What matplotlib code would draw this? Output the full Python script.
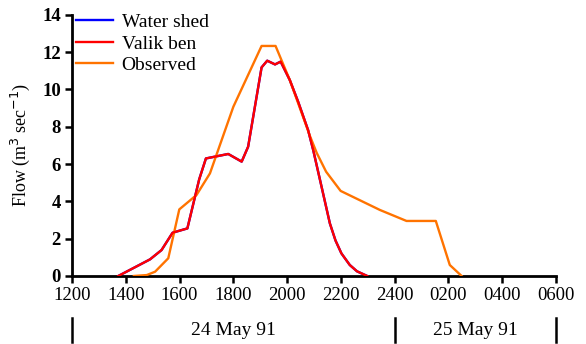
import matplotlib
matplotlib.use("Agg")
import matplotlib.pyplot as plt

plt.rcParams['font.family'] = ['Liberation Serif', 'DejaVu Serif']

# hours after 12:00 on 24 May 91
valik_t = [1.72, 2.9, 3.33, 3.74, 4.29, 4.73, 4.98, 5.81, 6.31, 6.55, 7.05, 7.26, 7.55, 7.76,
           8.1, 8.41, 8.78, 8.97, 9.28, 9.59, 9.8, 10.02, 10.33, 10.6, 10.98]
valik_q = [0.0, 0.89, 1.39, 2.32, 2.55, 5.18, 6.3, 6.54, 6.13, 6.93, 11.18, 11.54, 11.34, 11.49,
           10.5, 9.34, 7.82, 6.75, 4.79, 2.82, 1.9, 1.21, 0.59, 0.25, 0.0]
# Water shed series coincides with Valik ben (hidden underneath)
water_t = valik_t
water_q = valik_q
obs_t = [2.3, 2.78, 3.09, 3.58, 3.99, 4.63, 5.13, 6.0, 7.05, 7.57, 8.1, 8.85, 9.1, 9.45, 9.99,
         11.45, 12.44, 13.53, 14.05, 14.49]
obs_q = [0.0, 0.05, 0.23, 0.95, 3.57, 4.34, 5.5, 9.07, 12.33, 12.33, 10.5, 7.5, 6.6, 5.59, 4.56,
         3.54, 2.95, 2.95, 0.59, 0.0]

xtick_pos = [0, 2, 4, 6, 8, 10, 12, 14, 16, 18]
xtick_labels = ["1200", "1400", "1600", "1800", "2000", "2200", "2400", "0200", "0400", "0600"]
day_bounds = [0, 12, 18]
day_labels = ["24 May 91", "25 May 91"]

fig = plt.figure(figsize=(5.86, 3.44), dpi=100)
ax = fig.add_axes([0.1229, 0.1977, 0.9488 - 0.1229, 0.957 - 0.1977])

ax.plot(water_t, water_q, color="#0000ff", lw=1.7, label="Water shed", zorder=2)
ax.plot(valik_t, valik_q, color="#ff0000", lw=1.7, label="Valik ben", zorder=4)
ax.plot(obs_t, obs_q, color="#ff7300", lw=1.7, label="Observed", zorder=3)

ax.set_xlim(0, 18)
ax.set_ylim(0, 14)
ax.set_xticks(xtick_pos)
ax.set_xticklabels(xtick_labels)
ax.set_yticks(range(0, 15, 2))
for s in ["top", "right"]:
    ax.spines[s].set_visible(False)
for s in ["left", "bottom"]:
    ax.spines[s].set_linewidth(2)
ax.tick_params(direction="out", length=5, width=1.8, labelsize=13.5, pad=3)
for t in ax.get_yticklabels():
    t.set_fontweight("bold")
ax.set_ylabel("Flow (m$^3$ sec$^{-1}$)", fontsize=13, labelpad=7)

tr = ax.get_xaxis_transform()
for b in day_bounds:
    ax.plot([b, b], [-0.161, -0.253], transform=tr, color="black", lw=1.8, clip_on=False)
for i, lab in enumerate(day_labels):
    ax.text((day_bounds[i] + day_bounds[i + 1]) / 2, -0.21, lab, transform=tr,
            ha="center", va="center", fontsize=14)

leg = ax.legend(loc="upper left", frameon=False, fontsize=14, handlelength=1.9,
                handletextpad=0.45, borderaxespad=0.0, labelspacing=0.2,
                bbox_to_anchor=(-0.008, 1.035))

fig.savefig("out.png", dpi=100)
